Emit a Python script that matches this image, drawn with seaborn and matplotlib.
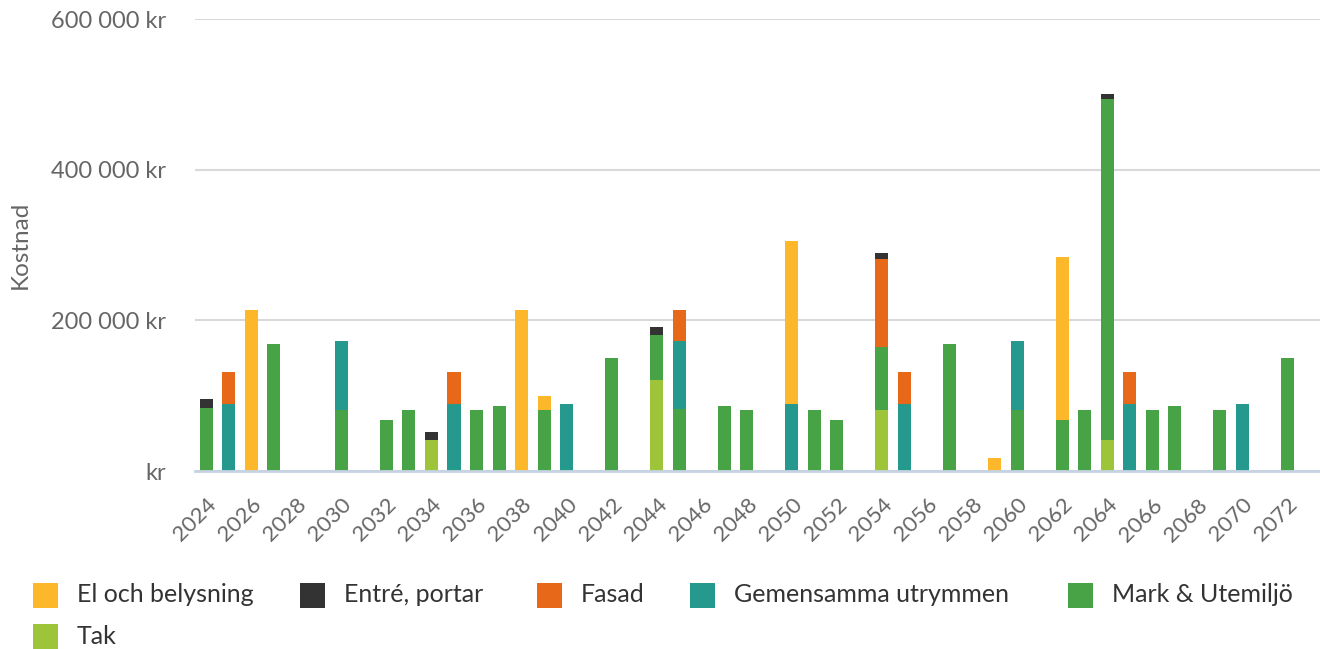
import pandas as pd
import matplotlib
matplotlib.use("Agg")
import matplotlib.pyplot as plt
import seaborn as sns
from matplotlib.patches import Rectangle

# =========================
# Data (kr per year and category)
# =========================
series_names = ["El och belysning", "Entré, portar", "Fasad",
                "Gemensamma utrymmen", "Mark & Utemiljö", "Tak"]
series_colors = ["#FDB72A", "#333333", "#E66818", "#26998F", "#47A345", "#9EC43A"]

el_years = [2026, 2038, 2039, 2050, 2059, 2062]
el_values = [214000, 214000, 18500, 215500, 17700, 215500]

entre_years = [2024, 2034, 2044, 2054, 2064]
entre_values = [11000, 10600, 10500, 8000, 7500]

fasad_years = [2025, 2035, 2045, 2054, 2055, 2065]
fasad_values = [42500, 42500, 42000, 117000, 42500, 42500]

gem_years = [2025, 2030, 2035, 2040, 2045, 2050, 2055, 2060, 2065, 2070]
gem_values = [89500, 90500, 89500, 89500, 90000, 89500, 89500, 90500, 89500, 89500]

mark_years = [2024, 2027, 2030, 2032, 2033, 2036, 2037, 2039, 2042, 2044, 2045,
              2047, 2048, 2051, 2052, 2054, 2057, 2060, 2062, 2063, 2064, 2066,
              2067, 2069, 2072]
mark_values = [84000, 169000, 81500, 68000, 81500, 81500, 86800, 81500, 150600,
               59000, 82000, 86800, 81500, 81500, 68000, 82500, 169000, 81500,
               68000, 81500, 452000, 81500, 86800, 81500, 150600]

tak_years = [2034, 2044, 2054, 2064]
tak_values = [41600, 121000, 81500, 41600]

y_ticks = [0, 200000, 400000, 600000]
x_tick_years = list(range(2024, 2073, 2))


def build_frame():
    parts = []
    for name, yrs, vals in [
        (series_names[0], el_years, el_values),
        (series_names[1], entre_years, entre_values),
        (series_names[2], fasad_years, fasad_values),
        (series_names[3], gem_years, gem_values),
        (series_names[4], mark_years, mark_values),
        (series_names[5], tak_years, tak_values),
    ]:
        parts.append(pd.DataFrame({"year": yrs, "kostnad": vals, "kategori": name}))
    return pd.concat(parts, ignore_index=True)


def kr_fmt(v):
    if v == 0:
        return "kr"
    return f"{v:,.0f}".replace(",", " ") + " kr"


W, H = 1320, 649
sns.set_style("white")
plt.rcParams["font.family"] = ["Lato", "DejaVu Sans"]

df = build_frame()
fig = plt.figure(figsize=(W / 100, H / 100), dpi=100)
ax = fig.add_axes([195 / W, 1 - 471 / H, (W - 195) / W, (471 - 19) / H])

sns.histplot(data=df, x="year", weights="kostnad", hue="kategori",
             hue_order=series_names, palette=series_colors, multiple="stack",
             discrete=True, shrink=0.58, alpha=1, linewidth=0, legend=False, ax=ax)

ax.set_xlim(2023.5, 2073.45)
ax.set_ylim(0, 600000)
ax.set_yticks(y_ticks)
ax.set_yticklabels([kr_fmt(v) for v in y_ticks], fontsize=17, color="#666666")
ax.set_xticks(x_tick_years)
ax.set_xticklabels([str(y) for y in x_tick_years], rotation=45, ha="right",
                   rotation_mode="anchor", fontsize=16, color="#666666")
ax.tick_params(axis="x", length=13, width=1.5, color="#C5D3E2", pad=4)
ax.tick_params(axis="y", length=0, pad=21)

ax.grid(axis="y", color="#D9D9D9", linewidth=1.5)
ax.set_axisbelow(True)
for side in ["top", "right", "left"]:
    ax.spines[side].set_visible(False)
ax.spines["bottom"].set_color("#C5D3E2")
ax.spines["bottom"].set_linewidth(2)
ax.set_xlabel("")
ax.set_ylabel("Kostnad", fontsize=17.5, color="#666666")
ax.yaxis.set_label_coords(-164 / (W - 195), 0.5)

# legend, drawn by hand to get highcharts-like wrapping
legend_x = [33, 300, 537, 690, 1068, 33]
legend_y = [595, 595, 595, 595, 595, 636]
for name, col, lx, ly in zip(series_names, series_colors, legend_x, legend_y):
    fig.add_artist(Rectangle((lx / W, 1 - (ly + 12.5) / H), 25 / W, 25 / H,
                             transform=fig.transFigure, color=col, lw=0))
    fig.text((lx + 44) / W, 1 - ly / H, name, fontsize=18, color="#333333",
             va="center", ha="left")

fig.savefig("out.png", dpi=100)
